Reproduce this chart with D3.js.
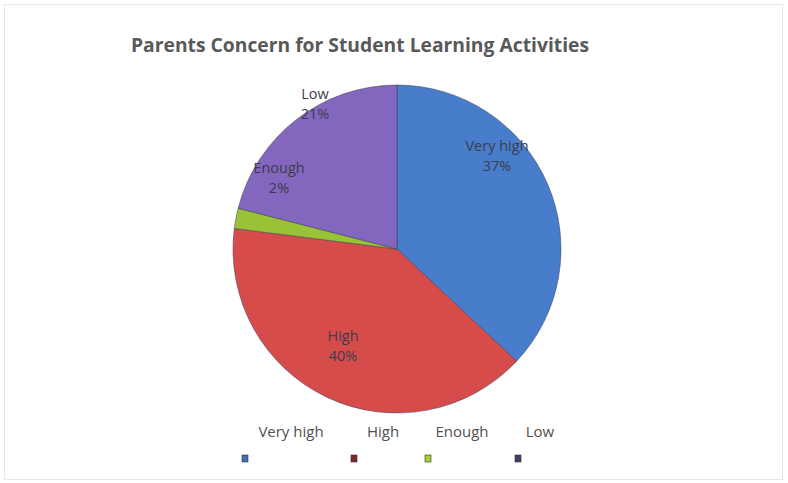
<!DOCTYPE html>
<html><head><meta charset="utf-8">
<script src="https://cdn.jsdelivr.net/npm/d3@7"></script>
<style>body{margin:0;background:#fff}svg{display:block}</style>
</head><body>
<script>
const categories = ["Very high", "High", "Enough", "Low"];
const values = [37, 40, 2, 21];
const labels = ["37%", "40%", "2%", "21%"];
const colors = ["#4c86d9", "#e6524f", "#a4d03a", "#8d6ecb"];
const title = "Parents Concern for Student Learning Activities";

const W = 788, H = 483;
const svg = d3.select("body").append("svg").attr("width", W).attr("height", H);
const defs = svg.append("defs");
colors.forEach((c, i) => {
  const g = defs.append("radialGradient").attr("id", "g" + i)
    .attr("gradientUnits", "userSpaceOnUse").attr("cx", 397).attr("cy", 249).attr("r", 165);
  g.append("stop").attr("offset", "0%").attr("stop-color", d3.color(c).brighter(0.1));
  g.append("stop").attr("offset", "92%").attr("stop-color", c);
  g.append("stop").attr("offset", "100%").attr("stop-color", d3.color(c).darker(0.2));
});

svg.append("rect").attr("x", 4.5).attr("y", 4.5).attr("width", 778).attr("height", 475)
  .attr("fill", "none").attr("stroke", "#e8e8e8");

svg.append("text").attr("x", 360).attr("y", 52).attr("text-anchor", "middle")
  .attr("font-family", "'Open Sans', sans-serif").attr("font-weight", "bold")
  .attr("font-size", 19.3).attr("fill", "#595959").text(title);

const cx = 397, cy = 249, R = 164;
const pie = d3.pie().sort(null).value(d => d)(values);
const arc = d3.arc().innerRadius(0).outerRadius(R);
const g = svg.append("g").attr("transform", `translate(${cx},${cy})`);
g.selectAll("path").data(pie).join("path")
  .attr("d", arc).attr("fill", (d, i) => `url(#g${i})`)
  .attr("stroke", "#3a3a5a").attr("stroke-opacity", 0.5).attr("stroke-width", 1);

// data labels
const labelPos = [[100, -98], [-54, 92], [-118, -76], [-82, -150]];
const font = "'Open Sans', sans-serif";
pie.forEach((d, i) => {
  const t = g.append("text").attr("text-anchor", "middle")
    .attr("font-family", font).attr("font-size", 14.5).attr("fill", "#3c3c4c");
  t.append("tspan").attr("x", labelPos[i][0]).attr("y", labelPos[i][1]).text(categories[i]);
  t.append("tspan").attr("x", labelPos[i][0]).attr("dy", 20).text(labels[i]);
});

// legend
const legTextX = [291, 383, 462, 540];
const legMarkX = [242, 351, 425, 515];
categories.forEach((c, i) => {
  svg.append("text").attr("x", legTextX[i]).attr("y", 437).attr("text-anchor", "middle")
    .attr("font-family", font).attr("font-size", 15).attr("fill", "#505050").text(c);
  svg.append("rect").attr("x", legMarkX[i]).attr("y", 455).attr("width", 6).attr("height", 7)
    .attr("fill", i === 2 ? colors[i] : d3.color(colors[i]).darker(i === 0 ? 0.5 : 1.8))
    .attr("stroke", "#333").attr("stroke-width", 0.6);
});
</script>
</body></html>
